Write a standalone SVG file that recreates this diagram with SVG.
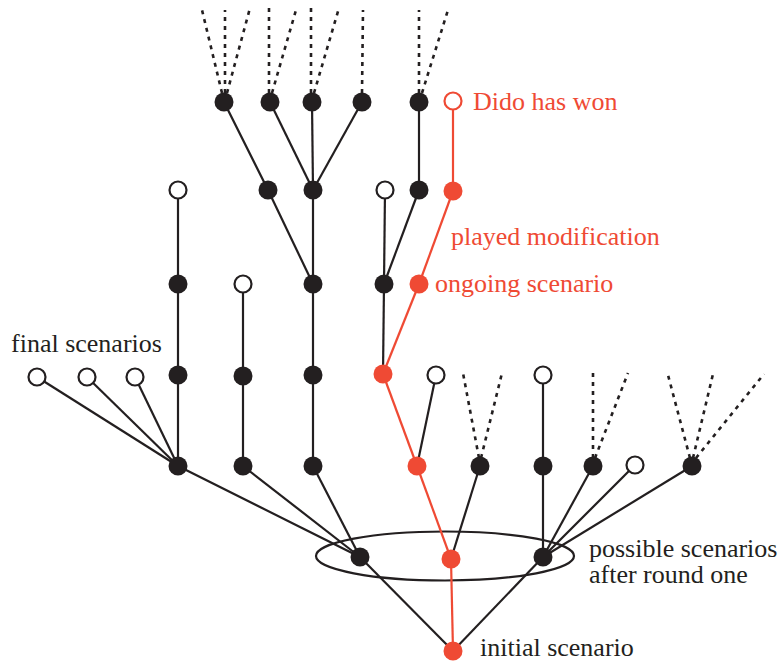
<svg xmlns="http://www.w3.org/2000/svg" width="784" height="664" viewBox="0 0 784 664">
<style>
.e{stroke:#231f20;stroke-width:2.2;fill:none}
.r{stroke:#ef4a34;stroke-width:2.2;fill:none}
.d{stroke:#231f20;stroke-width:2.6;fill:none;stroke-dasharray:4 5}
.b{fill:#231f20}
.rf{fill:#ef4a34}
.o{fill:#fff;stroke:#231f20;stroke-width:2.2}
.ro{fill:#fff;stroke:#ef4a34;stroke-width:2.2}
text{font-family:"Liberation Serif","Times New Roman",serif;font-size:26px}
.tb{fill:#231f20}
.tr{fill:#ef4a34}
</style>
<ellipse cx="445" cy="556" rx="129" ry="24.5" class="e"/>
<g id="connectors">
<!-- solid black -->
<line class="e" x1="360" y1="557" x2="453" y2="651"/>
<line class="e" x1="543" y1="557" x2="453" y2="651"/>
<line class="e" x1="360" y1="557" x2="178" y2="466"/>
<line class="e" x1="360" y1="557" x2="243" y2="466"/>
<line class="e" x1="360" y1="557" x2="313" y2="466"/>
<line class="e" x1="451" y1="559" x2="480" y2="466"/>
<line class="e" x1="543" y1="557" x2="543" y2="466"/>
<line class="e" x1="543" y1="557" x2="593" y2="466"/>
<line class="e" x1="543" y1="557" x2="635" y2="465"/>
<line class="e" x1="543" y1="557" x2="692" y2="466"/>
<line class="e" x1="178" y1="466" x2="37" y2="377"/>
<line class="e" x1="178" y1="466" x2="87" y2="377"/>
<line class="e" x1="178" y1="466" x2="135" y2="377"/>
<line class="e" x1="178" y1="466" x2="178" y2="375"/>
<line class="e" x1="243" y1="466" x2="243" y2="376"/>
<line class="e" x1="313" y1="466" x2="313" y2="375"/>
<line class="e" x1="417" y1="466" x2="436" y2="375"/>
<line class="e" x1="543" y1="466" x2="543" y2="375"/>
<line class="e" x1="178" y1="375" x2="178" y2="284"/>
<line class="e" x1="243" y1="376" x2="243" y2="284"/>
<line class="e" x1="313" y1="375" x2="313" y2="284"/>
<line class="e" x1="383" y1="374" x2="384" y2="284"/>
<line class="e" x1="178" y1="284" x2="178" y2="190"/>
<line class="e" x1="313" y1="284" x2="268" y2="190"/>
<line class="e" x1="313" y1="284" x2="313" y2="190"/>
<line class="e" x1="384" y1="284" x2="385" y2="190"/>
<line class="e" x1="384" y1="284" x2="419" y2="190"/>
<line class="e" x1="268" y1="190" x2="224" y2="102"/>
<line class="e" x1="313" y1="190" x2="270" y2="102"/>
<line class="e" x1="313" y1="190" x2="312" y2="102"/>
<line class="e" x1="313" y1="190" x2="362" y2="102"/>
<line class="e" x1="419" y1="190" x2="419" y2="102"/>
<!-- red -->
<line class="r" x1="453" y1="651" x2="451" y2="559"/>
<line class="r" x1="451" y1="559" x2="417" y2="466"/>
<line class="r" x1="417" y1="466" x2="383" y2="374"/>
<line class="r" x1="383" y1="374" x2="419" y2="284"/>
<line class="r" x1="419" y1="284" x2="453" y2="191"/>
<line class="r" x1="453" y1="191" x2="453" y2="101"/>
<!-- dotted -->
<line class="d" x1="479" y1="458" x2="463" y2="373"/>
<line class="d" x1="481" y1="458" x2="502" y2="373"/>
<line class="d" x1="593" y1="458" x2="593" y2="373"/>
<line class="d" x1="595" y1="458" x2="628" y2="373"/>
<line class="d" x1="690" y1="458" x2="668" y2="375"/>
<line class="d" x1="693" y1="458" x2="713" y2="374"/>
<line class="d" x1="696" y1="458" x2="764" y2="374"/>
<line class="d" x1="222" y1="93" x2="202" y2="10"/>
<line class="d" x1="225" y1="93" x2="225" y2="10"/>
<line class="d" x1="227" y1="93" x2="250" y2="8"/>
<line class="d" x1="269" y1="93" x2="269" y2="8"/>
<line class="d" x1="272" y1="93" x2="296" y2="10"/>
<line class="d" x1="311" y1="93" x2="311" y2="8"/>
<line class="d" x1="314" y1="93" x2="339" y2="8"/>
<line class="d" x1="362" y1="93" x2="363" y2="10"/>
<line class="d" x1="419" y1="93" x2="419" y2="10"/>
<line class="d" x1="422" y1="93" x2="448" y2="10"/>
</g>
<g id="n-root"><circle cx="453" cy="651" r="9.5" class="rf"/></g>
<g id="n1a"><circle cx="360" cy="557" r="9.5" class="b"/></g>
<g id="n1b"><circle cx="451" cy="559" r="9.5" class="rf"/></g>
<g id="n1c"><circle cx="543" cy="557" r="9.5" class="b"/></g>
<g id="n2a"><circle cx="178" cy="466" r="9.5" class="b"/></g>
<g id="n2b"><circle cx="243" cy="466" r="9.5" class="b"/></g>
<g id="n2c"><circle cx="313" cy="466" r="9.5" class="b"/></g>
<g id="n2d"><circle cx="417" cy="466" r="9.5" class="rf"/></g>
<g id="n2e"><circle cx="480" cy="466" r="9.5" class="b"/></g>
<g id="n2f"><circle cx="543" cy="466" r="9.5" class="b"/></g>
<g id="n2g"><circle cx="593" cy="466" r="9.5" class="b"/></g>
<g id="n2h"><circle cx="635" cy="465" r="8.5" class="o"/></g>
<g id="n2i"><circle cx="692" cy="466" r="9.5" class="b"/></g>
<g id="n3a"><circle cx="37" cy="377" r="8.5" class="o"/></g>
<g id="n3b"><circle cx="87" cy="377" r="8.5" class="o"/></g>
<g id="n3c"><circle cx="135" cy="377" r="8.5" class="o"/></g>
<g id="n3d"><circle cx="178" cy="375" r="9.5" class="b"/></g>
<g id="n3e"><circle cx="243" cy="376" r="9.5" class="b"/></g>
<g id="n3f"><circle cx="313" cy="375" r="9.5" class="b"/></g>
<g id="n3g"><circle cx="383" cy="374" r="9.5" class="rf"/></g>
<g id="n3h"><circle cx="436" cy="375" r="8.5" class="o"/></g>
<g id="n3i"><circle cx="543" cy="375" r="8.5" class="o"/></g>
<g id="n4a"><circle cx="178" cy="284" r="9.5" class="b"/></g>
<g id="n4b"><circle cx="243" cy="284" r="8.5" class="o"/></g>
<g id="n4c"><circle cx="313" cy="284" r="9.5" class="b"/></g>
<g id="n4d"><circle cx="384" cy="284" r="9.5" class="b"/></g>
<g id="n4e"><circle cx="419" cy="284" r="9.5" class="rf"/></g>
<g id="n5a"><circle cx="178" cy="190" r="8.5" class="o"/></g>
<g id="n5b"><circle cx="268" cy="190" r="9.5" class="b"/></g>
<g id="n5c"><circle cx="313" cy="190" r="9.5" class="b"/></g>
<g id="n5d"><circle cx="385" cy="190" r="8.5" class="o"/></g>
<g id="n5e"><circle cx="419" cy="190" r="9.5" class="b"/></g>
<g id="n5f"><circle cx="453" cy="191" r="9.5" class="rf"/></g>
<g id="n6a"><circle cx="224" cy="102" r="9.5" class="b"/></g>
<g id="n6b"><circle cx="270" cy="102" r="9.5" class="b"/></g>
<g id="n6c"><circle cx="312" cy="102" r="9.5" class="b"/></g>
<g id="n6d"><circle cx="362" cy="102" r="9.5" class="b"/></g>
<g id="n6e"><circle cx="419" cy="102" r="9.5" class="b"/></g>
<g id="n6f"><circle cx="453" cy="101" r="8.5" class="ro"/></g>
<g id="labels">
<text x="473" y="110" class="tr">Dido has won</text>
<text x="451" y="245" class="tr">played modification</text>
<text x="435" y="292" class="tr">ongoing scenario</text>
<text x="11" y="352" class="tb">final scenarios</text>
<text x="589" y="557" class="tb">possible scenarios</text>
<text x="589" y="583" class="tb">after round one</text>
<text x="480" y="656" class="tb">initial scenario</text>
</g>
</svg>
